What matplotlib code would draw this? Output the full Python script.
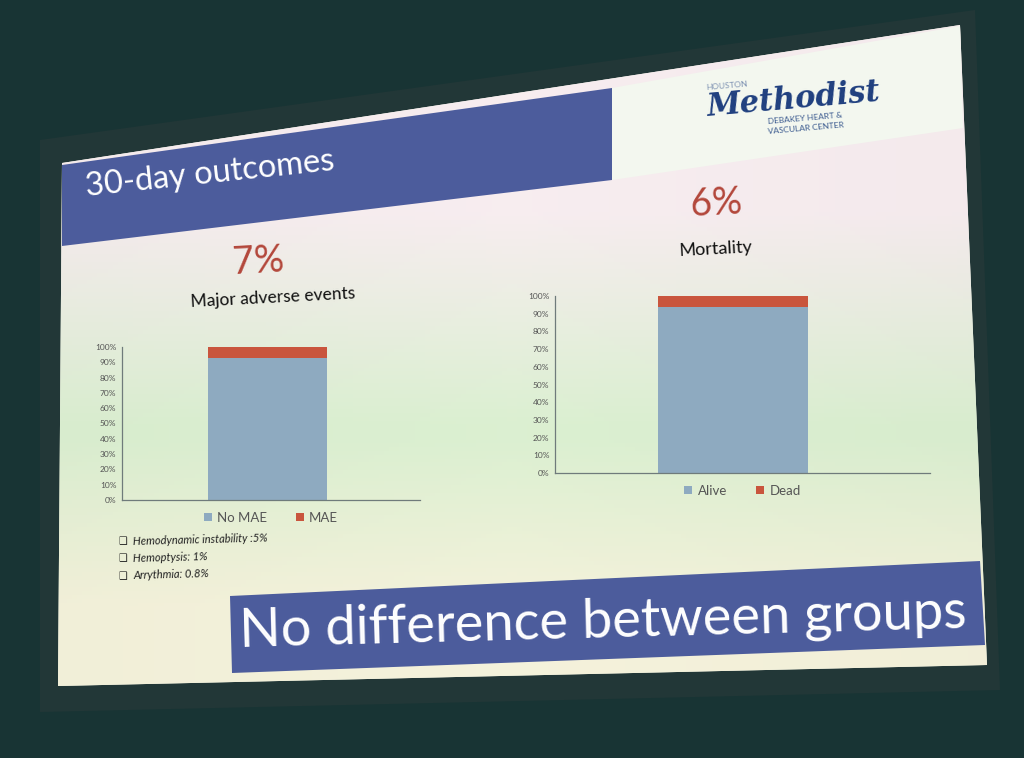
import numpy as np
import matplotlib
matplotlib.use("Agg")
import matplotlib.pyplot as plt
from matplotlib.patches import Polygon
from matplotlib.ticker import PercentFormatter

plt.rcParams['font.family'] = ['Lato', 'DejaVu Sans']

W, H = 1024, 758

# chart data (percent of patients)
mae_labels = ["No MAE", "MAE"]
mae_values = [93, 7]
mort_labels = ["Alive", "Dead"]
mort_values = [94, 6]
bullets = ["Hemodynamic instability :5%", "Hemoptysis: 1%", "Arrythmia: 0.8%"]

BLUE = "#8eaac0"
RED = "#c9553d"
BAND = "#4c5c9c"

fig = plt.figure(figsize=(W / 100, H / 100), dpi=100)
fig.patch.set_facecolor("#183434")

bg = fig.add_axes([0, 0, 1, 1])
bg.set_xlim(0, W)
bg.set_ylim(H, 0)
bg.axis("off")

# dark frame behind the projected slide
bg.add_patch(Polygon([(40, 140), (975, 10), (1000, 690), (40, 712)],
                     closed=True, fc="#223737", ec="none", zorder=0))

slide = Polygon([(62, 163), (960, 25), (987, 665), (58, 686)],
                closed=True, fc="#eef0e2", ec="none", zorder=1)
bg.add_patch(slide)

# washed-out projector gradient: pink top, green middle, cream bottom
yy = np.linspace(0, 1, 200)[:, None]
xx = np.linspace(0, 1, 200)[None, :]
top = np.array([0.97, 0.93, 0.94])
mid = np.array([0.86, 0.94, 0.82])
bot = np.array([0.96, 0.95, 0.86])
t = np.clip((yy - 0.28) / 0.28, 0, 1)[..., None]
u = np.clip((yy - 0.58) / 0.22, 0, 1)[..., None]
img = top * (1 - t) + mid * t
img = img * (1 - u) + bot * u
img = img * (1 - 0.03 * np.abs(xx - 0.5)[..., None])
im = bg.imshow(np.clip(img, 0, 1), extent=[0, W, H, 0], aspect="auto", zorder=2)
im.set_clip_path(slide)

# header band and logo box
bg.add_patch(Polygon([(62, 165), (612, 88), (612, 180), (62, 246)],
                     closed=True, fc=BAND, ec="none", zorder=3))
bg.add_patch(Polygon([(612, 88), (960, 26), (963, 128), (612, 180)],
                     closed=True, fc="#f3f7ef", ec="none", zorder=3))
bg.text(86, 196, "30-day outcomes", color="white", fontsize=23.5,
        rotation=6, ha="left", va="baseline", zorder=4, rotation_mode="anchor")

bg.text(706, 90, "HOUSTON", color="#7f93b3", fontsize=6, rotation=5,
        ha="left", va="baseline", zorder=4, rotation_mode="anchor")
bg.text(708, 116, "Methodist", color="#1f3f7f", fontsize=22, style="italic",
        family="DejaVu Serif", weight="bold", rotation=5,
        ha="left", va="baseline", zorder=4, rotation_mode="anchor")
bg.text(768, 124, "DEBAKEY HEART &", color="#3d5c90", fontsize=6, rotation=5,
        ha="left", va="baseline", zorder=4, rotation_mode="anchor")
bg.text(768, 134, "VASCULAR CENTER", color="#3d5c90", fontsize=6, rotation=5,
        ha="left", va="baseline", zorder=4, rotation_mode="anchor")

# panel titles
bg.text(258, 262, f"{mae_values[1]}%", color="#b3473b", fontsize=27,
        ha="center", va="center", rotation=3, zorder=4)
bg.text(273, 298, "Major adverse events", color="#111111", fontsize=12.5,
        ha="center", va="center", rotation=3, zorder=4)
bg.text(716, 204, f"{mort_values[1]}%", color="#b3473b", fontsize=27,
        ha="center", va="center", rotation=3, zorder=4)
bg.text(716, 249, "Mortality", color="#111111", fontsize=13,
        ha="center", va="center", rotation=3, zorder=4)

# bullet list
for i, b in enumerate(bullets):
    bg.text(118, 541 + i * 17.5, "\u2751", color="#222222", fontsize=7,
            family="DejaVu Sans", ha="left", va="center", zorder=4)
    bg.text(133, 540 + i * 17.5, b, color="#222222", fontsize=8, style="italic",
            ha="left", va="center", rotation=1.5, zorder=4)

# bottom banner
bg.add_patch(Polygon([(230, 596), (980, 561), (985, 645), (232, 673)],
                     closed=True, fc=BAND, ec="none", zorder=3))
bg.text(603, 622, "No difference between groups", color="white", fontsize=39,
        ha="center", va="center", rotation=1.5, zorder=4)


def stacked_panel(px0, px1, py_top, py_bot, center, labels, values):
    ax = fig.add_axes([px0 / W, 1 - py_bot / H, (px1 - px0) / W, (py_bot - py_top) / H])
    ax.set_facecolor("none")
    span = 2.0
    left = -center * span
    ax.set_xlim(left, left + span)
    ax.set_ylim(0, 100)
    ax.bar(0, values[0], width=0.8, color=BLUE, label=labels[0])
    ax.bar(0, values[1], width=0.8, bottom=values[0], color=RED, label=labels[1])
    ax.set_yticks(np.arange(0, 101, 10))
    ax.yaxis.set_major_formatter(PercentFormatter(decimals=0))
    ax.set_xticks([])
    ax.tick_params(axis="y", length=0, labelsize=6, labelcolor="#555555", pad=4)
    for s in ("top", "right"):
        ax.spines[s].set_visible(False)
    for s in ("left", "bottom"):
        ax.spines[s].set_color("#6f7b7b")
        ax.spines[s].set_linewidth(0.9)
    ax.legend(loc="upper center", bbox_to_anchor=(0.5, 0.0), ncol=2, frameon=False,
              fontsize=9.5, handlelength=0.6, handleheight=0.6, columnspacing=2.2,
              handletextpad=0.4, labelcolor="#555555")
    return ax


stacked_panel(122, 420, 347, 500, 0.487, mae_labels, mae_values)
stacked_panel(555, 930, 296, 473, 0.475, mort_labels, mort_values)

fig.savefig("out.png", dpi=100, facecolor=fig.get_facecolor())
